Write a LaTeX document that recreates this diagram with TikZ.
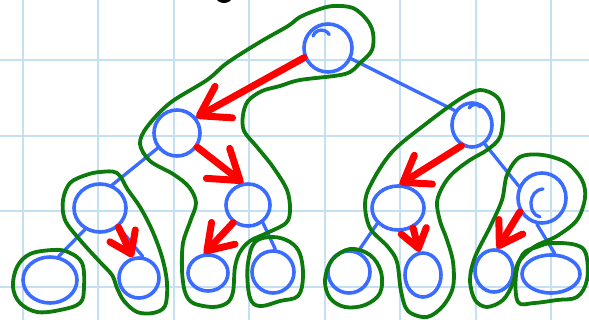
\documentclass[tikz,border=0pt]{standalone}
\usetikzlibrary{shapes.geometric,arrows.meta}
\definecolor{gridc}{RGB}{196,224,242}
\definecolor{bl}{RGB}{58,108,255}
\definecolor{gr}{RGB}{12,122,12}
\definecolor{rd}{RGB}{255,0,0}
\tikzset{
  gridline/.style={draw=gridc, line width=2pt},
  vtx/.style 2 args={ellipse, draw=bl, line width=3.6pt, inner sep=0pt, minimum width=#1, minimum height=#2},
  bedge/.style={draw=bl, line width=3.3pt, line cap=round},
  gloop/.style={draw=gr, line width=3.8pt, line join=round},
  redarr/.style 2 args={draw=rd, line width=7pt, line cap=round, line join=round, -{Straight Barb[length=#1,width=#2,round]}},
}
\begin{document}
\begin{tikzpicture}[x=1pt,y=-1pt]
\useasboundingbox (0,0) rectangle (589,320);
\clip (0,0) rectangle (589,320);
\fill[white] (0,0) rectangle (589,320);
% grid
\foreach \gx in {22.5,98,173.5,249,324.5,400,475.5,551} \draw[gridline] (\gx,0) -- (\gx,320);
\foreach \gy in {60,136,211.5,287} \draw[gridline] (0,\gy) -- (589,\gy);
% black mark at top
\fill[black] (224,-3) ellipse (8 and 6);
% vertices
\node[vtx={48pt}{48pt}] (root) at (328,48) {};
\node[vtx={46pt}{46pt}] (L) at (177,133) {};
\node[vtx={40pt}{44pt}] (R) at (472,125) {};
\node[vtx={52pt}{48pt}] (LL) at (100,208) {};
\node[vtx={44pt}{42pt}] (LR) at (248,205) {};
\node[vtx={52pt}{44pt}] (RL) at (398,208) {};
\node[vtx={48pt}{50pt}] (RR) at (542,198) {};
\node[vtx={54pt}{46pt}] (LLL) at (50,280) {};
\node[vtx={40pt}{40pt}] (LLR) at (139,278) {};
\node[vtx={40pt}{36pt}] (LRL) at (208,273) {};
\node[vtx={42pt}{42pt}] (LRR) at (273,272) {};
\node[vtx={42pt}{42pt}] (RLL) at (349,272) {};
\node[vtx={36pt}{44pt}] (RLR) at (423,275) {};
\node[vtx={38pt}{42pt}] (RRL) at (494,271) {};
\node[vtx={58pt}{38pt}] (RRR) at (551,274) {};
% small curls
\draw[bedge] (313,36) arc[start angle=200, end angle=330, radius=9];
\draw[bedge] (469,108) arc[start angle=210, end angle=320, radius=7];
\draw[bedge] (543,189) .. controls (528,190) and (527,214) .. (540,217);
% blue edges
\draw[bedge] (root.-25) -- (R.140);
\draw[bedge] (root.202) -- (L.39);
\draw[bedge] (L.218) -- (LL.62);
\draw[bedge] (L.-35) -- (LR.103);
\draw[bedge] (LL.235) -- (LLL.70);
\draw[bedge] (LL.-46) -- (LLR.80);
\draw[bedge] (LR.227) -- (LRL.100);
\draw[bedge] (LR.-50) -- (LRR.84);
\draw[bedge] (R.243) -- (RL.85);
\draw[bedge] (R.-56) -- (RR.153);
\draw[bedge] (RL.217) -- (RLL.66);
\draw[bedge] (RL.-53) -- (RLR.99);
\draw[bedge] (RR.212) -- (RRL.81);
\draw[bedge] (RR.259) -- (RRR.80);
% green loops
\draw[gloop] plot[smooth cycle, tension=0.55] coordinates {
 (300,17) (317,10) (333,6) (353,8) (367,20) (373,33) (372,50) (360,63) (345,74)
 (300,80) (280,86) (262,91) (248,101) (243,115) (244,131) (257,147) (273,167)
 (287,190) (290,210) (286,223) (267,233) (250,241) (240,252) (235,267) (233,292)
 (227,303) (213,307) (193,303) (185,292) (182,270) (183,243) (190,222) (196,203)
 (189,187) (173,174) (150,161) (140,144) (147,127) (170,103) (207,80) (227,63)
 (260,42) (288,26)};
\draw[gloop] plot[smooth cycle, tension=0.55] coordinates {
 (117,173) (100,172) (86,175) (70,183) (63,200) (65,220) (80,240) (100,262)
 (112,275) (117,288) (124,301) (137,312) (153,313) (165,306) (167,283) (162,257)
 (152,230) (140,207) (128,190)};
\draw[gloop] plot[smooth cycle, tension=0.6] coordinates {
 (53,250) (30,254) (17,267) (13,287) (20,303) (37,312) (60,310) (80,303)
 (84,287) (82,263) (68,252)};
\draw[gloop] plot[smooth cycle, tension=0.6] coordinates {
 (255,242) (273,237) (290,242) (300,254) (303,277) (298,296) (280,301) (262,306)
 (252,302) (248,287) (248,263)};
\draw[gloop] plot[smooth cycle, tension=0.6] coordinates {
 (350,249) (370,255) (381,272) (380,293) (365,305) (345,307) (330,298) (325,280) (332,260)};
\draw[gloop] plot[smooth cycle, tension=0.55] coordinates {
 (480,90) (497,97) (503,113) (500,137) (487,150) (470,160) (453,173) (443,186)
 (437,202) (440,221) (447,240) (453,262) (453,287) (443,306) (427,317) (408,311)
 (401,291) (397,262) (388,247) (370,228) (365,204) (371,184) (392,152) (427,123) (460,99)};
\draw[gloop] plot[smooth cycle, tension=0.55] coordinates {
 (520,157) (543,155) (567,163) (582,180) (585,198) (577,220) (557,236) (534,247)
 (518,263) (513,283) (503,300) (487,307) (475,300) (470,280) (475,257) (490,227)
 (502,200) (507,175)};
\draw[gloop] plot[smooth cycle, tension=0.6] coordinates {
 (516,275) (523,254) (537,247) (552,243) (576,245) (586,254) (587,280) (577,297)
 (557,300) (534,303) (518,302)};
% red arrows
\draw[redarr={28pt}{36pt}] (root.202) -- (L.39);
\draw[redarr={28pt}{38pt}] (L.-35) -- (LR.103);
\draw[redarr={24pt}{32pt}] (LR.230) -- (LRL.100);
\draw[redarr={20pt}{28pt}] (LL.-46) -- (LLR.107);
\draw[redarr={24pt}{34pt}] (R.243) -- (RL.85);
\draw[redarr={18pt}{26pt}] (RL.-53) -- (RLR.99);
\draw[redarr={22pt}{28pt}] (RR.212) -- (RRL.81);
\end{tikzpicture}
\end{document}
